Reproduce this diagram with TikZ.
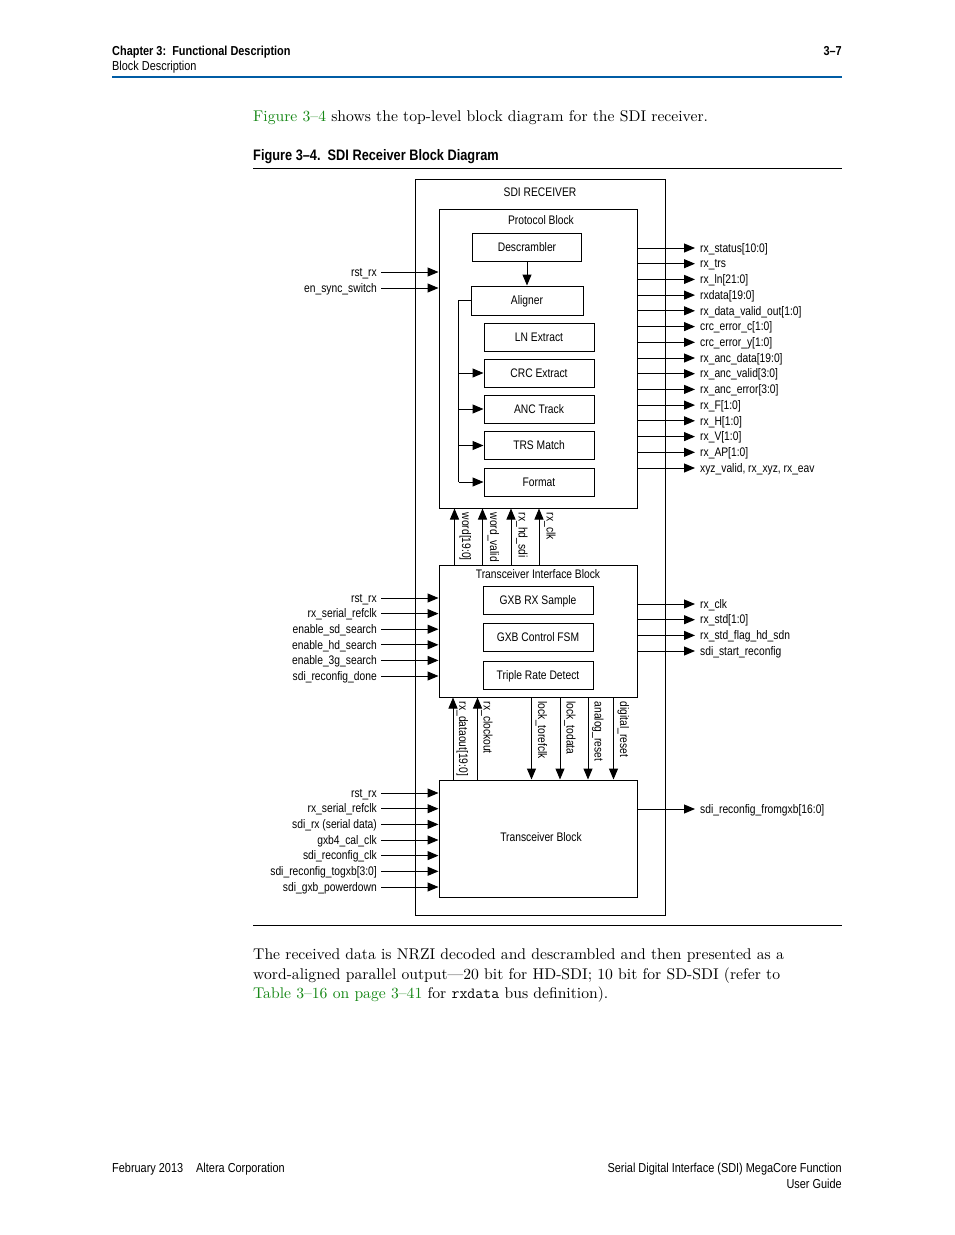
\documentclass[tikz,border=0pt]{standalone}
\usepackage{fontspec}
\usepackage{tikz}
\usetikzlibrary{arrows.meta}
\newfontfamily\narrowsf[FakeStretch=0.83]{Liberation Sans}
\newfontfamily\headsf[FakeStretch=0.84]{Liberation Sans}
\newfontfamily\bodyrm[FakeStretch=1.01]{lmroman10-regular.otf}
\definecolor{xrefgreen}{RGB}{20,135,20}
\definecolor{headblue}{RGB}{0,92,164}
\newcommand{\SIGF}{\narrowsf\fontsize{12.4}{14}\selectfont}
\newcommand{\HEADF}{\headsf\fontsize{13}{15}\selectfont}
\newcommand{\TITF}{\headsf\bfseries\fontsize{15.2}{17}\selectfont}
\newcommand{\BODYF}{\bodyrm\fontsize{15.5}{19.5}\selectfont}

\begin{document}
\begin{tikzpicture}[x=1pt,y=-1pt]
  \tikzstyle{every node}=[inner sep=0pt]
  \tikzstyle{sigtext}=[font=\SIGF,text height=9.5pt,text depth=1pt]
  \tikzstyle{blkbox}=[draw,line width=1pt,sigtext]
  \tikzstyle{subblk}=[blkbox,minimum width=110pt,minimum height=28pt]
  \tikzstyle{arr}=[line width=1pt,-{Triangle[length=11pt,width=9pt]}]
  \useasboundingbox[fill=white] (0,0) rectangle (954,1235);

  % page head and foot
  \node[anchor=base west,font=\HEADF\bfseries] (chap) at (112,55) {Chapter 3:\ \ Functional Description};
  \node[anchor=base west,font=\HEADF] (sect) at (112,70.5) {Block Description};
  \node[anchor=base east,font=\HEADF\bfseries] (pgno) at (842,55) {3–7};
  \draw[headblue,line width=2pt] (112,77) -- (842,77);
  \node[anchor=base west,font=\HEADF] (fdate) at (112,1172.5) {February 2013};
  \node[anchor=base west,font=\HEADF] (fcorp) at (196,1172.5) {Altera Corporation};
  \node[anchor=base east,font=\HEADF] (fbook) at (842,1172.5) {Serial Digital Interface (SDI) MegaCore Function};
  \node[anchor=base east,font=\HEADF] (fguide) at (842,1188.5) {User Guide};

  % text round the figure
  \node[anchor=base west,font=\BODYF] (intro) at (253,121.5) {\textcolor{xrefgreen}{Figure 3–4} shows the top-level block diagram for the SDI receiver.};
  \node[anchor=base west,font=\TITF] (figcap) at (253,160) {Figure 3–4.\ \ SDI Receiver Block Diagram};
  \draw[line width=0.7pt] (253,168) -- (842,168);
  \draw[line width=0.7pt] (253,925) -- (842,925);
  \node[anchor=base west,font=\BODYF] (para1) at (253,959.5) {The received data is NRZI decoded and descrambled and then presented as a};
  \node[anchor=base west,font=\BODYF] (para2) at (253,979) {word-aligned parallel output—20 bit for HD-SDI; 10 bit for SD-SDI (refer to};
  \node[anchor=base west,font=\BODYF] (para3) at (253,998.5) {\textcolor{xrefgreen}{Table 3–16 on page 3–41} for \texttt{rxdata} bus definition).};

  % SDI receiver and protocol block
  \node[blkbox,minimum width=250pt,minimum height=736pt] (sdirx) at (540,547) {};
  \node[sigtext] (sdirxname) at (540,192) {SDI RECEIVER};
  \node[blkbox,minimum width=198pt,minimum height=299pt] (proto) at (538,358.5) {};
  \node[sigtext] (protoname) at (541,220) {Protocol Block};
  \node[subblk,minimum width=109pt] (descr) at (527,247) {Descrambler};
  \node[subblk,minimum width=112pt,minimum height=29pt] (align) at (527,300.5) {Aligner};
  \node[subblk] (lnx) at (539,337) {LN Extract};
  \node[subblk] (crcx) at (539,373) {CRC Extract};
  \node[subblk] (anct) at (539,409) {ANC Track};
  \node[subblk] (trsm) at (539,445.5) {TRS Match};
  \node[subblk] (fmt) at (539,482) {Format};
  \draw[arr] (descr) -- (align);
  \draw[line width=1pt] (align.west) -- ++(-12,0) coordinate (fork) -- (fork |- fmt);
  \draw[arr] (fork |- crcx) -- (crcx.west);
  \draw[arr] (fork |- anct) -- (anct.west);
  \draw[arr] (fork |- trsm) -- (trsm.west);
  \draw[arr] (fork |- fmt) -- (fmt.west);

  \node[sigtext,anchor=east] (prst) at (377,272) {rst\_rx};
  \node[sigtext,anchor=east] (pens) at (377,288) {en\_sync\_switch};
  \draw[arr] ([xshift=4pt]prst.east) -- (prst -| proto.west);
  \draw[arr] ([xshift=4pt]pens.east) -- (pens -| proto.west);

  \node[sigtext,anchor=west] (ostat) at (700,248) {rx\_status[10:0]};
  \node[sigtext,anchor=west] (otrs) at (700,263.7) {rx\_trs};
  \node[sigtext,anchor=west] (oln) at (700,279.4) {rx\_ln[21:0]};
  \node[sigtext,anchor=west] (odata) at (700,295.1) {rxdata[19:0]};
  \node[sigtext,anchor=west] (odval) at (700,310.8) {rx\_data\_valid\_out[1:0]};
  \node[sigtext,anchor=west] (ocrcc) at (700,326.6) {crc\_error\_c[1:0]};
  \node[sigtext,anchor=west] (ocrcy) at (700,342.3) {crc\_error\_y[1:0]};
  \node[sigtext,anchor=west] (oancd) at (700,358) {rx\_anc\_data[19:0]};
  \node[sigtext,anchor=west] (oancv) at (700,373.7) {rx\_anc\_valid[3:0]};
  \node[sigtext,anchor=west] (oance) at (700,389.4) {rx\_anc\_error[3:0]};
  \node[sigtext,anchor=west] (of) at (700,405.1) {rx\_F[1:0]};
  \node[sigtext,anchor=west] (oh) at (700,420.8) {rx\_H[1:0]};
  \node[sigtext,anchor=west] (ov) at (700,436.6) {rx\_V[1:0]};
  \node[sigtext,anchor=west] (oap) at (700,452.3) {rx\_AP[1:0]};
  \node[sigtext,anchor=west] (oxyz) at (700,468) {xyz\_valid, rx\_xyz, rx\_eav};
  \draw[arr] (ostat -| proto.east) -- ([xshift=-5pt]ostat.west);
  \draw[arr] (otrs -| proto.east) -- ([xshift=-5pt]otrs.west);
  \draw[arr] (oln -| proto.east) -- ([xshift=-5pt]oln.west);
  \draw[arr] (odata -| proto.east) -- ([xshift=-5pt]odata.west);
  \draw[arr] (odval -| proto.east) -- ([xshift=-5pt]odval.west);
  \draw[arr] (ocrcc -| proto.east) -- ([xshift=-5pt]ocrcc.west);
  \draw[arr] (ocrcy -| proto.east) -- ([xshift=-5pt]ocrcy.west);
  \draw[arr] (oancd -| proto.east) -- ([xshift=-5pt]oancd.west);
  \draw[arr] (oancv -| proto.east) -- ([xshift=-5pt]oancv.west);
  \draw[arr] (oance -| proto.east) -- ([xshift=-5pt]oance.west);
  \draw[arr] (of -| proto.east) -- ([xshift=-5pt]of.west);
  \draw[arr] (oh -| proto.east) -- ([xshift=-5pt]oh.west);
  \draw[arr] (ov -| proto.east) -- ([xshift=-5pt]ov.west);
  \draw[arr] (oap -| proto.east) -- ([xshift=-5pt]oap.west);
  \draw[arr] (oxyz -| proto.east) -- ([xshift=-5pt]oxyz.west);

  % transceiver interface block
  \node[blkbox,minimum width=198pt,minimum height=132pt] (tib) at (538,631) {};
  \node[sigtext] (tibname) at (538,574) {Transceiver Interface Block};
  \node[subblk] (rxsmp) at (538,600) {GXB RX Sample};
  \node[subblk] (ctlfsm) at (538,637) {GXB Control FSM};
  \node[subblk] (trd) at (538,675) {Triple Rate Detect};

  \coordinate (xword) at (454.5,540);
  \coordinate (xwval) at (482.5,540);
  \coordinate (xhdsdi) at (511,540);
  \coordinate (xrxclk) at (539,540);
  \draw[arr] (tib.north -| xword) -- (proto.south -| xword);
  \draw[arr] (tib.north -| xwval) -- (proto.south -| xwval);
  \draw[arr] (tib.north -| xhdsdi) -- (proto.south -| xhdsdi);
  \draw[arr] (tib.north -| xrxclk) -- (proto.south -| xrxclk);
  \node[sigtext,rotate=-90,anchor=south west] (lword) at (461,512.5) {word[19:0]};
  \node[sigtext,rotate=-90,anchor=south west] (lwval) at (489,512.5) {word\_valid};
  \node[sigtext,rotate=-90,anchor=south west] (lhdsdi) at (517.5,512.5) {rx\_hd\_sdi};
  \node[sigtext,rotate=-90,anchor=south west] (lrxclk) at (545.5,512.5) {rx\_clk};

  \node[sigtext,anchor=east] (trst) at (377,598) {rst\_rx};
  \node[sigtext,anchor=east] (tref) at (377,613.6) {rx\_serial\_refclk};
  \node[sigtext,anchor=east] (tsd) at (377,629.2) {enable\_sd\_search};
  \node[sigtext,anchor=east] (thd) at (377,644.8) {enable\_hd\_search};
  \node[sigtext,anchor=east] (t3g) at (377,660.4) {enable\_3g\_search};
  \node[sigtext,anchor=east] (tdone) at (377,676) {sdi\_reconfig\_done};
  \draw[arr] ([xshift=4pt]trst.east) -- (trst -| tib.west);
  \draw[arr] ([xshift=4pt]tref.east) -- (tref -| tib.west);
  \draw[arr] ([xshift=4pt]tsd.east) -- (tsd -| tib.west);
  \draw[arr] ([xshift=4pt]thd.east) -- (thd -| tib.west);
  \draw[arr] ([xshift=4pt]t3g.east) -- (t3g -| tib.west);
  \draw[arr] ([xshift=4pt]tdone.east) -- (tdone -| tib.west);

  \node[sigtext,anchor=west] (tclk) at (700,604) {rx\_clk};
  \node[sigtext,anchor=west] (tstd) at (700,619.7) {rx\_std[1:0]};
  \node[sigtext,anchor=west] (tflag) at (700,635.4) {rx\_std\_flag\_hd\_sdn};
  \node[sigtext,anchor=west] (tstart) at (700,651) {sdi\_start\_reconfig};
  \draw[arr] (tclk -| tib.east) -- ([xshift=-5pt]tclk.west);
  \draw[arr] (tstd -| tib.east) -- ([xshift=-5pt]tstd.west);
  \draw[arr] (tflag -| tib.east) -- ([xshift=-5pt]tflag.west);
  \draw[arr] (tstart -| tib.east) -- ([xshift=-5pt]tstart.west);

  % transceiver block
  \node[blkbox,minimum width=198pt,minimum height=117pt] (tb) at (538,838.5) {};
  \node[sigtext] (tbname) at (541,837) {Transceiver Block};

  \coordinate (xdout) at (453,740);
  \coordinate (xcout) at (477.5,740);
  \coordinate (xlref) at (531.5,740);
  \coordinate (xldat) at (560,740);
  \coordinate (xarst) at (588,740);
  \coordinate (xdrst) at (613.5,740);
  \draw[arr] (tb.north -| xdout) -- (tib.south -| xdout);
  \draw[arr] (tb.north -| xcout) -- (tib.south -| xcout);
  \draw[arr] (tib.south -| xlref) -- (tb.north -| xlref);
  \draw[arr] (tib.south -| xldat) -- (tb.north -| xldat);
  \draw[arr] (tib.south -| xarst) -- (tb.north -| xarst);
  \draw[arr] (tib.south -| xdrst) -- (tb.north -| xdrst);
  \node[sigtext,rotate=-90,anchor=south west] (ldout) at (458,701.5) {rx\_dataout[19:0]};
  \node[sigtext,rotate=-90,anchor=south west] (lcout) at (482.5,701.5) {rx\_clockout};
  \node[sigtext,rotate=-90,anchor=south west] (llref) at (537,701.5) {lock\_torefclk};
  \node[sigtext,rotate=-90,anchor=south west] (lldat) at (565.5,701.5) {lock\_todata};
  \node[sigtext,rotate=-90,anchor=south west] (larst) at (593.5,701.5) {analog\_reset};
  \node[sigtext,rotate=-90,anchor=south west] (ldrst) at (619,701.5) {digital\_reset};

  \node[sigtext,anchor=east] (brst) at (377,793) {rst\_rx};
  \node[sigtext,anchor=east] (bref) at (377,808.7) {rx\_serial\_refclk};
  \node[sigtext,anchor=east] (bsdi) at (377,824.4) {sdi\_rx (serial data)};
  \node[sigtext,anchor=east] (bcal) at (377,840) {gxb4\_cal\_clk};
  \node[sigtext,anchor=east] (brclk) at (377,855.6) {sdi\_reconfig\_clk};
  \node[sigtext,anchor=east] (btogx) at (377,871.3) {sdi\_reconfig\_togxb[3:0]};
  \node[sigtext,anchor=east] (bpwr) at (377,887) {sdi\_gxb\_powerdown};
  \draw[arr] ([xshift=4pt]brst.east) -- (brst -| tb.west);
  \draw[arr] ([xshift=4pt]bref.east) -- (bref -| tb.west);
  \draw[arr] ([xshift=4pt]bsdi.east) -- (bsdi -| tb.west);
  \draw[arr] ([xshift=4pt]bcal.east) -- (bcal -| tb.west);
  \draw[arr] ([xshift=4pt]brclk.east) -- (brclk -| tb.west);
  \draw[arr] ([xshift=4pt]btogx.east) -- (btogx -| tb.west);
  \draw[arr] ([xshift=4pt]bpwr.east) -- (bpwr -| tb.west);

  \node[sigtext,anchor=west] (bfrom) at (700,809) {sdi\_reconfig\_fromgxb[16:0]};
  \draw[arr] (bfrom -| tb.east) -- ([xshift=-5pt]bfrom.west);
\end{tikzpicture}
\end{document}
